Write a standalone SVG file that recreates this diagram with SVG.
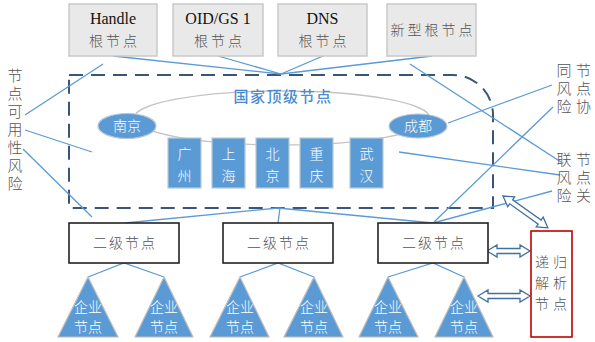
<svg xmlns="http://www.w3.org/2000/svg" width="595" height="342" viewBox="0 0 595 342">
<defs>
<style>
.root{fill:#e9e9e9;stroke:#c9c9c9;stroke-width:1.5}
.en{font-family:"Liberation Serif",serif;font-size:16px;fill:#111;text-anchor:middle}
.cn{font-family:"Noto Sans CJK SC",sans-serif;font-size:14px;fill:#555;font-weight:300}
.mid{text-anchor:middle}
.vt{font-family:"Noto Sans CJK SC",sans-serif;font-size:15px;fill:#555;font-weight:300;writing-mode:vertical-rl}
.wt{font-family:"Noto Sans CJK SC",sans-serif;font-size:14px;fill:#fff;text-anchor:middle;font-weight:300}
.blu{fill:#5b9bd5;stroke:#b8c8d8;stroke-width:1.2}
.tri{fill:#5b9bd5;stroke:#bdbdbd;stroke-width:1.2}
.l2{fill:#fff;stroke:#222;stroke-width:1.6}
.con{stroke:#5b9bd5;stroke-width:1.3;fill:none}
.arr{fill:#fff;stroke:#41719c;stroke-width:1.3}
</style>
</defs>
<rect width="595" height="342" fill="#fff"/>

<!-- background ellipse of top-level ring -->
<ellipse cx="282" cy="118" rx="148" ry="27" fill="none" stroke="#c4c4c4" stroke-width="1.3"/>

<!-- dashed top-level boundary -->
<path d="M69,75 H453 A40,40 0 0 1 493,115 V208 H69 Z" fill="none" stroke="#3b5576" stroke-width="2" stroke-dasharray="14 8"/>

<g id="connectors">
<!-- roots to top-level -->
<line class="con" x1="113" y1="56" x2="281" y2="74"/>
<line class="con" x1="218" y1="56" x2="281" y2="74"/>
<line class="con" x1="323" y1="56" x2="281" y2="74"/>
<line class="con" x1="432" y1="56" x2="281" y2="74"/>
<!-- top-level to level-2 -->
<line class="con" x1="125" y1="223" x2="278" y2="208"/>
<line class="con" x1="278" y1="208" x2="433" y2="223"/>
<line class="con" x1="278" y1="223" x2="280" y2="208"/>
<!-- level-2 to enterprise -->
<polyline class="con" points="88,277 124,263 164,277"/>
<polyline class="con" points="240,277 278,263 314,277"/>
<polyline class="con" points="388,277 433,263 464,277"/>
<!-- availability risk pointers -->
<line class="con" x1="25" y1="115" x2="103" y2="64"/>
<line class="con" x1="25" y1="130" x2="92" y2="152"/>
<line class="con" x1="23" y1="149" x2="92" y2="217"/>
<!-- coordination risk pointers -->
<line class="con" x1="448" y1="123" x2="552" y2="85"/>
<line class="con" x1="553" y1="107" x2="434" y2="222"/>
<!-- association risk pointers -->
<line class="con" x1="410" y1="64" x2="561" y2="162"/>
<line class="con" x1="399" y1="152" x2="560" y2="175"/>
<line class="con" x1="552" y1="191" x2="433" y2="223"/>
<!-- double arrows -->
<polygon class="arr" points="487,251 497,245 497,248.5 520,248.5 520,245 530,251 520,257 520,253.5 497,253.5 497,257"/>
<polygon class="arr" points="478,296 488,290 488,293.5 520,293.5 520,290 530,296 520,302 520,298.5 488,298.5 488,302"/>
<polygon class="arr" transform="translate(503,196) rotate(35.4)" points="0,0 10,-6 10,-2.5 45,-2.5 45,-6 55,0 45,6 45,2.5 10,2.5 10,6"/>
</g>

<!-- root nodes -->
<g id="root-handle">
<rect class="root" x="69" y="4" width="88" height="52"/>
<text class="en" x="113" y="24">Handle</text>
<text class="cn mid" x="114.5" y="46" letter-spacing="3">根节点</text>
</g>
<g id="root-oid">
<rect class="root" x="173" y="4" width="90" height="52"/>
<text class="en" x="218" y="24">OID/GS 1</text>
<text class="cn mid" x="219.5" y="46" letter-spacing="3">根节点</text>
</g>
<g id="root-dns">
<rect class="root" x="278" y="4" width="89" height="52"/>
<text class="en" x="322.5" y="24">DNS</text>
<text class="cn mid" x="324" y="46" letter-spacing="3">根节点</text>
</g>
<g id="root-new">
<rect class="root" x="387" y="4" width="89" height="52"/>
<text class="cn mid" x="433" y="35" letter-spacing="3">新型根节点</text>
</g>

<!-- top-level title -->
<g id="top-level">
<text x="283" y="102" font-family="Noto Sans CJK SC, sans-serif" font-size="15" font-weight="500" fill="#4a8ad0" text-anchor="middle" letter-spacing="1.5">国家顶级节点</text>
</g>

<g id="nanjing">
<ellipse class="blu" cx="127" cy="126" rx="29" ry="12.5"/>
<text class="wt" x="127" y="131">南京</text>
</g>
<g id="chengdu">
<ellipse class="blu" cx="418" cy="126" rx="29" ry="12"/>
<text class="wt" x="418" y="131">成都</text>
</g>
<g id="guangzhou">
<rect class="blu" x="168" y="138" width="33" height="50"/>
<text class="wt" x="184.5" y="159">广</text><text class="wt" x="184.5" y="181">州</text>
</g>
<g id="shanghai">
<rect class="blu" x="212" y="138" width="33" height="50"/>
<text class="wt" x="228.5" y="159">上</text><text class="wt" x="228.5" y="181">海</text>
</g>
<g id="beijing">
<rect class="blu" x="256" y="138" width="33" height="50"/>
<text class="wt" x="272.5" y="159">北</text><text class="wt" x="272.5" y="181">京</text>
</g>
<g id="chongqing">
<rect class="blu" x="300" y="138" width="33" height="50"/>
<text class="wt" x="316.5" y="159">重</text><text class="wt" x="316.5" y="181">庆</text>
</g>
<g id="wuhan">
<rect class="blu" x="350" y="138" width="33" height="50"/>
<text class="wt" x="366.5" y="159">武</text><text class="wt" x="366.5" y="181">汉</text>
</g>

<!-- level-2 nodes -->
<g id="l2-1">
<rect class="l2" x="69" y="223" width="110" height="40"/>
<text class="cn mid" x="125" y="248" letter-spacing="2">二级节点</text>
</g>
<g id="l2-2">
<rect class="l2" x="223" y="223" width="110" height="40"/>
<text class="cn mid" x="279" y="248" letter-spacing="2">二级节点</text>
</g>
<g id="l2-3">
<rect class="l2" x="378" y="223" width="110" height="40"/>
<text class="cn mid" x="434" y="248" letter-spacing="2">二级节点</text>
</g>

<!-- enterprise nodes -->
<g id="ent-1"><polygon class="tri" points="88,277 58,337 118,337"/><text class="wt" x="88" y="312">企业</text><text class="wt" x="88" y="332">节点</text></g>
<g id="ent-2"><polygon class="tri" points="164,277 135,337 193,337"/><text class="wt" x="164" y="312">企业</text><text class="wt" x="164" y="332">节点</text></g>
<g id="ent-3"><polygon class="tri" points="240,277 210,337 269,337"/><text class="wt" x="240" y="312">企业</text><text class="wt" x="240" y="332">节点</text></g>
<g id="ent-4"><polygon class="tri" points="314,277 284,337 343,337"/><text class="wt" x="314" y="312">企业</text><text class="wt" x="314" y="332">节点</text></g>
<g id="ent-5"><polygon class="tri" points="388,277 359,337 418,337"/><text class="wt" x="388" y="312">企业</text><text class="wt" x="388" y="332">节点</text></g>
<g id="ent-6"><polygon class="tri" points="464,277 435,337 493,337"/><text class="wt" x="464" y="312">企业</text><text class="wt" x="464" y="332">节点</text></g>

<!-- recursive resolver -->
<g id="recursive">
<rect x="531" y="231" width="41" height="106" fill="#fff" stroke="#c00000" stroke-width="1.6"/>
<text class="cn" x="535" y="267" letter-spacing="4">递归</text>
<text class="cn" x="535" y="288" letter-spacing="4">解析</text>
<text class="cn" x="535" y="309" letter-spacing="4">节点</text>
</g>

<!-- risk labels (vertical text) -->
<g id="risk-availability">
<text class="vt" x="15" y="67.5" letter-spacing="3">节点可用性风险</text>
</g>
<g id="risk-coordination">
<text class="vt" x="583.5" y="63" font-size="14" letter-spacing="3">节点协</text>
<text class="vt" x="564" y="63" font-size="14" letter-spacing="3">同风险</text>
</g>
<g id="risk-association">
<text class="vt" x="583.5" y="152" font-size="14" letter-spacing="3">节点关</text>
<text class="vt" x="564" y="152" font-size="14" letter-spacing="3">联风险</text>
</g>
</svg>
